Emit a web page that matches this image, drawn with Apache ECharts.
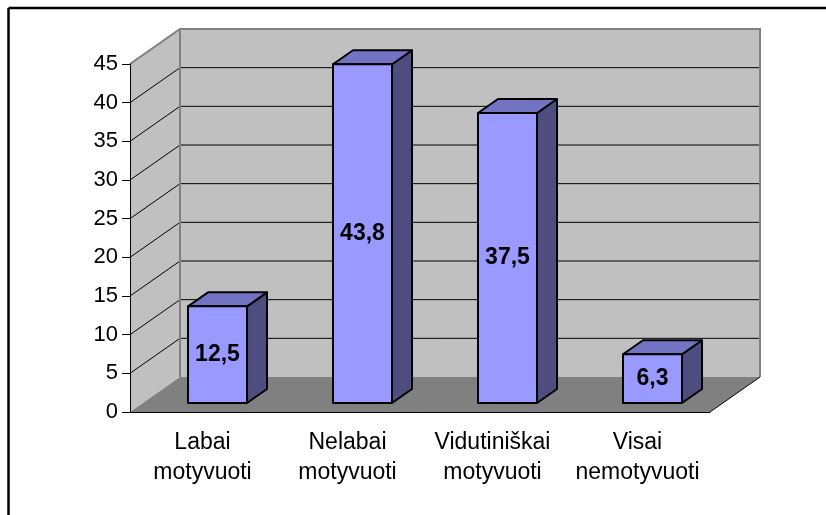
<!DOCTYPE html>
<html>
<head>
<meta charset="utf-8">
<script src="https://cdn.jsdelivr.net/npm/echarts@6/dist/echarts.min.js"></script>
<style>
  html, body { margin: 0; padding: 0; background: #fff; }
  #chart { width: 826px; height: 515px; }
</style>
</head>
<body>
<div id="chart"></div>
<script>
// duomenys
const categories = ['Labai\nmotyvuoti', 'Nelabai\nmotyvuoti', 'Vidutiniškai\nmotyvuoti', 'Visai\nnemotyvuoti'];
const values = [12.5, 43.8, 37.5, 6.3];
const valueLabels = ['12,5', '43,8', '37,5', '6,3'];
const gridValues = [5, 10, 15, 20, 25, 30, 35, 40];

// 3D imitacija (px)
const DX = 50, DY = -35;        // sienos gylis
const BAR_OX = 15, BAR_OY = -9; // stulpelio priekio poslinkis
const BAR_DX = 20, BAR_DY = -14; // stulpelio gylis
const BAR_W = 0.407;            // stulpelio plotis kategorijos daliai

const FONT = '"Liberation Sans", Arial, sans-serif';

const chart = echarts.init(document.getElementById('chart'));

function renderWalls(params, api) {
  const cs = params.coordSys;
  const l = cs.x, r = cs.x + cs.width, t = cs.y, b = cs.y + cs.height;
  const children = [];
  // kairė siena
  children.push({ type: 'polygon', shape: { points: [[l, b], [l, t], [l + DX, t + DY], [l + DX, b + DY]] },
    style: { fill: '#c0c0c0', stroke: null } });
  // galinė siena
  children.push({ type: 'rect', shape: { x: l + DX, y: t + DY, width: r - l, height: b - t },
    style: { fill: '#c0c0c0', stroke: null } });
  // tinklelis
  gridValues.forEach(v => {
    const y = api.coord([0, v])[1];
    children.push({ type: 'polyline', shape: { points: [[l, y], [l + DX, y + DY], [r + DX, y + DY]] },
      style: { stroke: '#000', lineWidth: 1, fill: null } });
  });
  // sienų kraštai
  children.push({ type: 'polyline', shape: { points: [[l, t], [l + DX, t + DY], [r + DX, t + DY], [r + DX, b + DY]] },
    style: { stroke: '#808080', lineWidth: 2, fill: null } });
  children.push({ type: 'line', shape: { x1: l + DX, y1: t + DY, x2: l + DX, y2: b + DY },
    style: { stroke: '#808080', lineWidth: 2 } });
  // grindys
  children.push({ type: 'polygon', shape: { points: [[l, b], [r, b], [r + DX, b + DY], [l + DX, b + DY]] },
    style: { fill: '#808080', stroke: null } });
  children.push({ type: 'line', shape: { x1: r, y1: b, x2: r + DX, y2: b + DY },
    style: { stroke: '#000', lineWidth: 1 } });
  return { type: 'group', children: children };
}

function renderBar(params, api) {
  const idx = api.value(0);
  const val = api.value(1);
  const base = api.coord([idx, 0]);
  const top = api.coord([idx, val]);
  const bw = api.size([1, 0])[0] * BAR_W;
  const dx = BAR_DX, dy = BAR_DY;
  const x0 = base[0] - bw / 2 + BAR_OX, x1 = base[0] + bw / 2 + BAR_OX;
  const y0 = base[1] + BAR_OY, y1 = top[1] + BAR_OY;
  const edge = { stroke: '#000', lineWidth: 2, lineJoin: 'round' };
  return {
    type: 'group',
    children: [
      { type: 'polygon', shape: { points: [[x1, y0], [x1, y1], [x1 + dx, y1 + dy], [x1 + dx, y0 + dy]] },
        style: Object.assign({ fill: '#4d4d80' }, edge) },
      { type: 'polygon', shape: { points: [[x0, y1], [x1, y1], [x1 + dx, y1 + dy], [x0 + dx, y1 + dy]] },
        style: Object.assign({ fill: '#7373c4' }, edge) },
      { type: 'rect', shape: { x: x0, y: y1, width: x1 - x0, height: y0 - y1 },
        style: Object.assign({ fill: '#9999ff' }, edge) },
      { type: 'text', style: { text: valueLabels[idx], x: (x0 + x1) / 2, y: (y0 + y1) / 2,
        align: 'center', verticalAlign: 'middle', fill: '#000',
        font: 'bold 23px ' + FONT } }
    ]
  };
}

const option = {
  backgroundColor: '#ffffff',
  animation: false,
  graphic: [
    { type: 'line', shape: { x1: 8.5, y1: 8, x2: 826, y2: 8 }, style: { stroke: '#000', lineWidth: 2.5 } },
    { type: 'line', shape: { x1: 8.5, y1: 8, x2: 8.5, y2: 515 }, style: { stroke: '#000', lineWidth: 2.5 } }
  ],
  grid: { left: 130, right: 116, top: 64, bottom: 103 },
  xAxis: {
    type: 'category',
    data: categories,
    z: 10,
    axisLine: { lineStyle: { color: '#000', width: 1 } },
    axisTick: { length: 8, lineStyle: { color: '#000' } },
    axisLabel: { interval: 0, hideOverlap: false, color: '#000', fontSize: 23, fontFamily: FONT, lineHeight: 30, margin: 16 },
    splitLine: { show: false }
  },
  yAxis: {
    type: 'value',
    min: 0, max: 45, interval: 5,
    z: 10,
    axisLine: { show: true, lineStyle: { color: '#000', width: 1 } },
    axisTick: { show: true, length: 8, lineStyle: { color: '#000' } },
    axisLabel: { color: '#000', fontSize: 22, fontFamily: FONT, margin: 12 },
    splitLine: { show: false }
  },
  series: [
    {
      type: 'custom',
      renderItem: renderWalls,
      data: [[0, 0]],
      clip: false,
      silent: true,
      z: 1
    },
    {
      type: 'custom',
      renderItem: renderBar,
      data: values.map((v, i) => [i, v]),
      encode: { x: 0, y: 1 },
      clip: false,
      z: 3
    }
  ]
};

chart.setOption(option);
</script>
</body>
</html>
